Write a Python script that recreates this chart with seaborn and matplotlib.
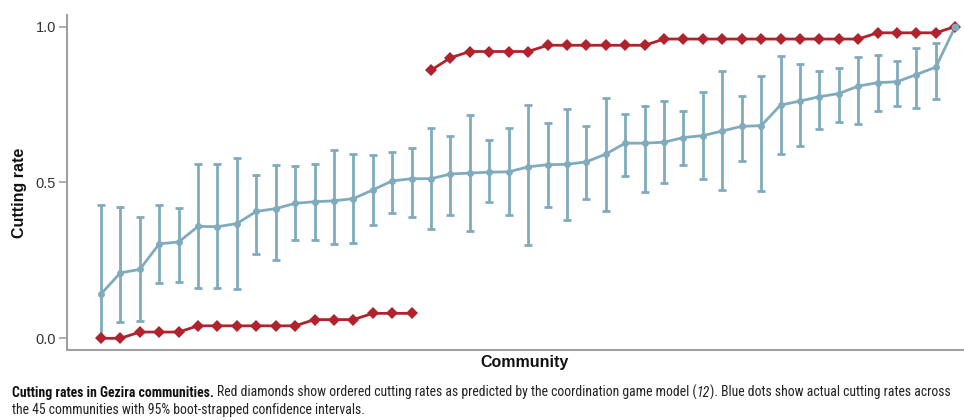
import numpy as np
import pandas as pd
import matplotlib
matplotlib.use("Agg")
import matplotlib.pyplot as plt
import seaborn as sns
from matplotlib import font_manager

# Observed cutting rates per community (ordered), with 95% bootstrap CI bounds
observed = [0.142, 0.210, 0.221, 0.303, 0.309, 0.359, 0.358, 0.368, 0.407, 0.416,
            0.433, 0.438, 0.441, 0.448, 0.476, 0.505, 0.512, 0.512, 0.527, 0.530,
            0.533, 0.534, 0.550, 0.557, 0.558, 0.566, 0.591, 0.626, 0.626, 0.629,
            0.644, 0.650, 0.665, 0.680, 0.682, 0.748, 0.761, 0.775, 0.785, 0.809,
            0.820, 0.823, 0.846, 0.870, 1.000]
ci_upper = [0.428, 0.420, 0.388, 0.428, 0.417, 0.559, 0.559, 0.578, 0.525, 0.556,
            0.553, 0.560, 0.603, 0.591, 0.587, 0.598, 0.610, 0.676, 0.650, 0.717,
            0.635, 0.675, 0.749, 0.692, 0.736, 0.682, 0.772, 0.719, 0.744, 0.760,
            0.730, 0.790, 0.857, 0.776, 0.842, 0.906, 0.881, 0.857, 0.866, 0.903,
            0.910, 0.890, 0.930, 0.948, 1.000]
ci_lower = [0.000, 0.052, 0.055, 0.178, 0.182, 0.160, 0.160, 0.158, 0.270, 0.250,
            0.314, 0.316, 0.301, 0.306, 0.363, 0.401, 0.389, 0.350, 0.396, 0.343,
            0.438, 0.395, 0.298, 0.422, 0.381, 0.448, 0.408, 0.521, 0.469, 0.499,
            0.556, 0.511, 0.476, 0.569, 0.473, 0.592, 0.618, 0.672, 0.693, 0.688,
            0.730, 0.745, 0.740, 0.769, 1.000]

# Cutting rates predicted by the coordination game model (two equilibrium branches)
predicted = [0.00, 0.00, 0.02, 0.02, 0.02, 0.04, 0.04, 0.04, 0.04, 0.04,
             0.04, 0.06, 0.06, 0.06, 0.08, 0.08, 0.08,
             0.86, 0.90, 0.92, 0.92, 0.92, 0.92, 0.94, 0.94, 0.94, 0.94, 0.94,
             0.94, 0.96, 0.96, 0.96, 0.96, 0.96, 0.96, 0.96, 0.96, 0.96, 0.96,
             0.96, 0.98, 0.98, 0.98, 0.98, 1.00]
branch = ["low"] * 17 + ["high"] * 28

yticks = [0.0, 0.5, 1.0]
ytick_labels = ["0.0", "0.5", "1.0"]

BLUE = "#80abbc"
RED = "#b0222c"
GREY = "#a0a0a0"

community = np.arange(len(observed))
obs_df = pd.DataFrame({"community": community, "rate": observed})
pred_df = pd.DataFrame({"community": community, "rate": predicted, "branch": branch})

sns.set_style("white")
installed = {f.name for f in font_manager.fontManager.ttflist}
narrow = "Liberation Sans Narrow" if "Liberation Sans Narrow" in installed else "Roboto Condensed" if "Roboto Condensed" in installed else "Liberation Sans"
plt.rcParams["font.family"] = ["Liberation Sans", "DejaVu Sans"]

fig = plt.figure(figsize=(9.64, 4.2), dpi=100)
ax = fig.add_axes([0.0695, 0.1667, 0.9305, 0.7975])

err = np.array([np.array(observed) - np.array(ci_lower),
                np.array(ci_upper) - np.array(observed)])
has_ci = np.array(ci_upper) > np.array(ci_lower)
ax.errorbar(community[has_ci], np.array(observed)[has_ci], yerr=err[:, has_ci],
            fmt="none", ecolor=BLUE, elinewidth=2.0, capsize=2.6, capthick=2.0, zorder=2)

sns.lineplot(data=obs_df, x="community", y="rate", color=BLUE, lw=2.0,
             marker="o", markersize=5, markeredgewidth=0, ax=ax, zorder=3)

sns.lineplot(data=pred_df, x="community", y="rate", units="branch", estimator=None,
             color=RED, lw=2.0, marker="D", markersize=5.8, markeredgewidth=0,
             ax=ax, zorder=4, sort=True)

# the top community sits where both series meet: keep the observed dot visible
last = obs_df.iloc[[-1]]
sns.scatterplot(data=last, x="community", y="rate", color=BLUE, s=30,
                linewidth=0, ax=ax, zorder=5)

ax.set_xlim(-1.75, 44.45)
ax.set_ylim(-0.0375, 1.037)
ax.set_yticks(yticks)
ax.set_yticklabels(ytick_labels, fontsize=10.5, color="#333333")
ax.set_xticks([])
ax.tick_params(axis="y", length=6, width=1.2, color=GREY, pad=2, left=True)
for side in ("top", "right"):
    ax.spines[side].set_visible(False)
for side in ("left", "bottom"):
    ax.spines[side].set_color(GREY)
    ax.spines[side].set_linewidth(1.5)

ax.set_xlabel("Community", fontsize=11.5, fontweight="bold", color="#111111")
ax.xaxis.set_label_coords(0.51, -0.015, transform=ax.transAxes)
ax.xaxis.label.set_va("top")
ax.set_ylabel("Cutting rate", fontsize=11.5, fontweight="bold", color="#111111")
ax.yaxis.set_label_coords(-0.045, 0.47)

# caption, mixed weights on one baseline
renderer = fig.canvas.get_renderer()
W = fig.get_figwidth() * fig.dpi
cap_size = 9.95

def run(text, x, y, **kw):
    style = {"fontsize": cap_size, "family": [narrow, "DejaVu Sans"], "color": "#222222"}
    style.update(kw)
    t = fig.text(x, y, text, va="baseline", ha="left", **style)
    bb = t.get_window_extent(renderer)
    return bb.x1 / W

y1 = 1 - 397 / 420
y2 = 1 - 414 / 420
x0 = 12 / W
sp = 3.0 / W
xe = run("Cutting rates in Gezira communities.", x0, y1, fontweight="bold", color="#111111")
xe = run("Red diamonds show ordered cutting rates as predicted by the coordination game model (", xe + sp, y1)
xe = run("12", xe, y1, style="italic")
run("). Blue dots show actual cutting rates across", xe, y1)
run("the 45 communities with 95% boot-strapped confidence intervals.", x0, y2)

fig.savefig("out.png", dpi=100)
